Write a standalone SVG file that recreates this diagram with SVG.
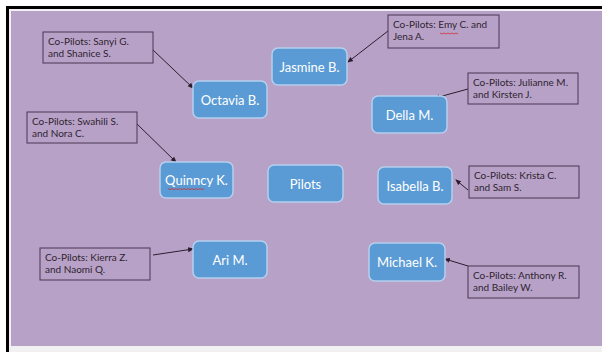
<svg xmlns="http://www.w3.org/2000/svg" width="602" height="352" viewBox="0 0 602 352">
  <defs>
    <marker id="arr" markerWidth="6" markerHeight="6" refX="5" refY="3" orient="auto" markerUnits="userSpaceOnUse">
      <path d="M0,0.5 L6,3 L0,5.5 Z" fill="#2a1e2e"/>
    </marker>
    <style>
      .node rect { fill: #5b9bd5; stroke: #b4d0ee; stroke-width: 1.5; }
      .node text { font-family: "Lato", "Open Sans", sans-serif; font-size: 13px; fill: #ffffff; text-anchor: middle; dominant-baseline: central; }
      .note rect { fill: none; stroke: #4a3652; stroke-width: 1; }
      .note text { font-family: "Lato", "Open Sans", sans-serif; font-size: 10px; fill: #2e2430; }
      .conn line { stroke: #2a1e2e; stroke-width: 1; marker-end: url(#arr); }
      .squig { fill: none; stroke: #d03030; stroke-width: 0.8; }
    </style>
  </defs>

  <rect x="0" y="0" width="602" height="352" fill="#ffffff"/>
  <rect x="6" y="6" width="596" height="346" fill="#000000"/>
  <rect x="9" y="9" width="593" height="343" fill="#f2eef4"/>
  <rect x="11" y="11" width="591" height="335" fill="#b8a1c7"/>
  <rect x="11" y="346" width="591" height="6" fill="#f1f1f1"/>

  <g id="connectors" class="conn">
    <line x1="153" y1="50" x2="193" y2="88"/>
    <line x1="137" y1="124" x2="176" y2="162"/>
    <line x1="388" y1="31" x2="348" y2="62"/>
    <line x1="468" y1="89" x2="435" y2="98"/>
    <line x1="153" y1="255" x2="193" y2="249"/>
    <line x1="468" y1="190" x2="456" y2="180"/>
    <line x1="468" y1="266" x2="445" y2="259"/>
  </g>

  <g id="node-pilots" class="node"><rect x="268" y="165" width="75" height="37" rx="6"/><text x="305.5" y="183.5">Pilots</text></g>
  <g id="node-jasmine" class="node"><rect x="272" y="48" width="75" height="37" rx="6"/><text x="309.5" y="66.5">Jasmine B.</text></g>
  <g id="node-octavia" class="node"><rect x="193" y="81" width="74" height="37" rx="6"/><text x="230" y="99.5">Octavia B.</text></g>
  <g id="node-quinncy" class="node"><rect x="160" y="162" width="73" height="36" rx="6"/><text x="196.5" y="180">Quinncy K.</text></g>
  <g id="node-della" class="node"><rect x="372" y="96" width="75" height="37" rx="6"/><text x="409.5" y="114.5">Della M.</text></g>
  <g id="node-isabella" class="node"><rect x="378" y="167" width="74" height="37" rx="6"/><text x="415" y="185.5">Isabella B.</text></g>
  <g id="node-ari" class="node"><rect x="193" y="241" width="74" height="37" rx="6"/><text x="230" y="259.5">Ari M.</text></g>
  <g id="node-michael" class="node"><rect x="369" y="243" width="76" height="38" rx="6"/><text x="407" y="262">Michael K.</text></g>

  <path class="squig" d="M168,188.5 l2,1.2 l2,-1.2 l2,1.2 l2,-1.2 l2,1.2 l2,-1.2 l2,1.2 l2,-1.2 l2,1.2 l2,-1.2 l2,1.2 l2,-1.2 l2,1.2 l2,-1.2 l2,1.2 l2,-1.2 l2,1.2 l2,-1.2"/>
  <path class="squig" d="M440,33 l2,1 l2,-1 l2,1 l2,-1 l2,1 l2,-1 l2,1 l2,-1 l2,1"/>

  <g id="note-sanyi" class="note"><rect x="43" y="32" width="110" height="31"/><text x="48" y="45">Co-Pilots: Sanyi G.</text><text x="48" y="57">and Shanice S.</text></g>
  <g id="note-swahili" class="note"><rect x="27" y="112" width="110" height="31"/><text x="32" y="125">Co-Pilots: Swahili S.</text><text x="32" y="137">and Nora C.</text></g>
  <g id="note-emy" class="note"><rect x="388" y="15" width="111" height="33"/><text x="393" y="28">Co-Pilots: Emy C. and</text><text x="393" y="40">Jena A.</text></g>
  <g id="note-julianne" class="note"><rect x="468" y="73" width="110" height="31"/><text x="473" y="86">Co-Pilots: Julianne M.</text><text x="473" y="98">and Kirsten J.</text></g>
  <g id="note-krista" class="note"><rect x="469" y="166" width="110" height="32"/><text x="474" y="179">Co-Pilots: Krista C.</text><text x="474" y="191">and Sam S.</text></g>
  <g id="note-kierra" class="note"><rect x="40" y="248" width="110" height="32"/><text x="45" y="261">Co-Pilots: Kierra Z.</text><text x="45" y="273">and Naomi Q.</text></g>
  <g id="note-anthony" class="note"><rect x="468" y="266" width="111" height="32"/><text x="473" y="279">Co-Pilots: Anthony R.</text><text x="473" y="291">and Bailey W.</text></g>
</svg>
